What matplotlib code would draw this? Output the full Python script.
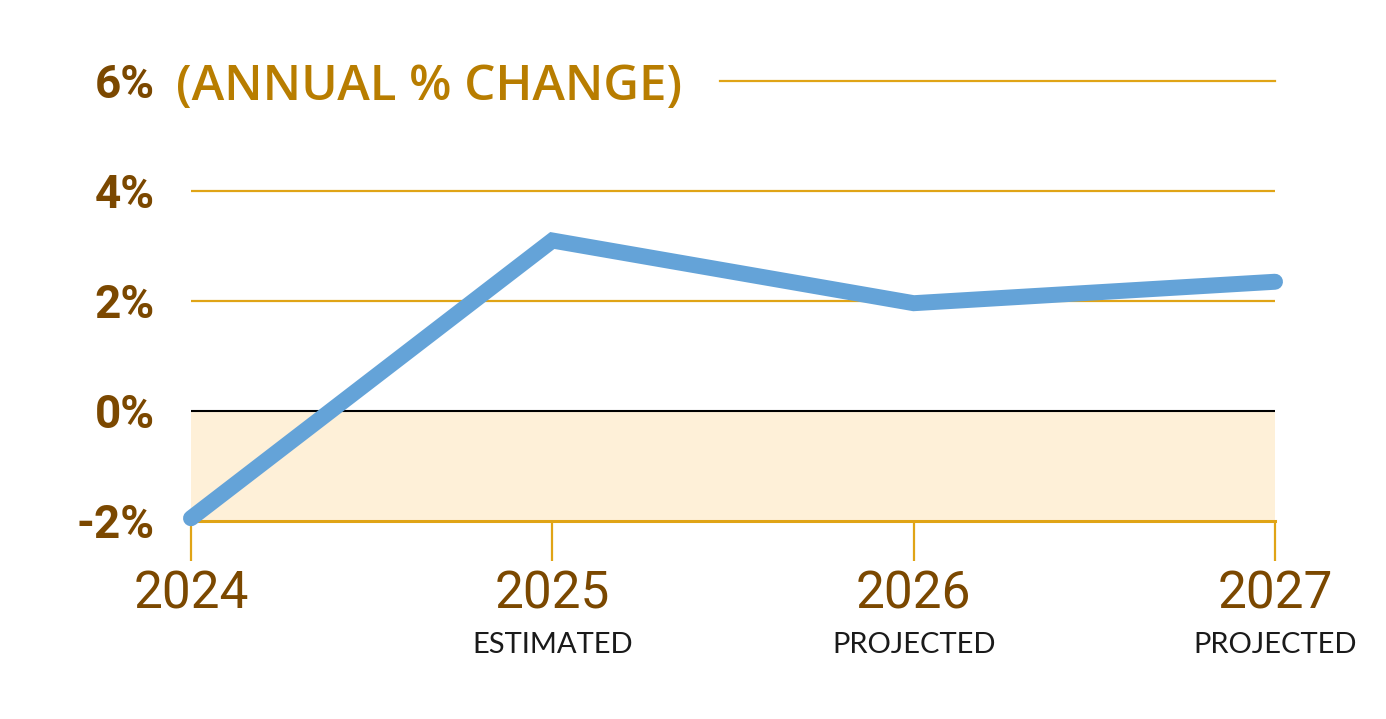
import matplotlib.pyplot as plt
import matplotlib.transforms as mtransforms

years = [2024, 2025, 2026, 2027]
year_labels = ["2024", "2025", "2026", "2027"]
sub_labels = ["", "ESTIMATED", "PROJECTED", "PROJECTED"]
change = [-1.95, 3.1, 1.96, 2.35]
yticks = [-2, 0, 2, 4, 6]
ytick_labels = ["-2%", "0%", "2%", "4%", "6%"]
title = "(ANNUAL % CHANGE)"

gold = "#e0a416"
brown = "#7b4800"
title_col = "#b87d00"

fig = plt.figure(figsize=(13.86, 7.19), dpi=100)
ax = fig.add_axes([191 / 1386, 1 - 521 / 719, (1275 - 191) / 1386, (521 - 81) / 719])
ax.set_xlim(years[0], years[-1])
ax.set_ylim(-2, 6)

# shaded negative band
ax.fill_between([years[0], years[-1]], -2, 0, color="#fef0d8", lw=0, zorder=0)

# grid lines
for v in [2, 4]:
    ax.axhline(v, color=gold, lw=1.6, zorder=1)
ax.axhline(6, xmin=(720 - 191) / (1275 - 191), color=gold, lw=1.6, zorder=1,
           clip_on=False)
ax.axhline(0, color="black", lw=1.5, zorder=2)
ax.axhline(-2, color=gold, lw=2.2, zorder=2, clip_on=False)

ax.plot(years, change, color="#64a3d8", lw=11.5, solid_capstyle="round",
        solid_joinstyle="miter", zorder=3, clip_on=False)

for s in ax.spines.values():
    s.set_visible(False)

ax.set_xticks(years)
ax.set_xticklabels(year_labels, fontsize=37, color=brown, family="Roboto")
ax.tick_params(axis="x", length=29, width=1.6, color=gold, pad=6)

ax.set_yticks(yticks)
ax.set_yticklabels(ytick_labels, fontsize=33, color=brown, fontweight="bold",
                   family="Roboto")
ax.tick_params(axis="y", length=0, pad=26)

trans = mtransforms.blended_transform_factory(ax.transData, fig.transFigure)
for x, lab in zip(years, sub_labels):
    if lab:
        fig.text(x, 1 - 645 / 719, lab, transform=trans, ha="center", va="center",
                 fontsize=21, color="#1a1a1a", family="Lato")

fig.text(176 / 1386, 1 - 87 / 719, title, ha="left", va="center",
         fontsize=35.5, color=title_col, fontweight="semibold", family="Open Sans")

fig.savefig("out.png", dpi=100)
